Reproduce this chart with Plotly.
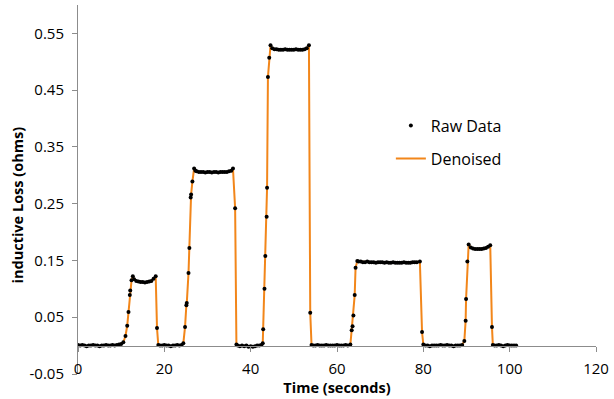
import plotly.graph_objects as go

# Time stamps (seconds), one row per segment of the recording
time_s = [
    0, 0.5, 1, 1.5, 2, 2.5, 3, 3.5, 4, 4.5, 5, 5.5, 6, 6.5, 7, 7.5, 8, 8.5, 9, 9.5, 10, 10.5,
    11.0, 11.4, 11.7, 12.0, 12.1, 12.4, 12.7,
    13.0, 13.5, 14.0, 14.5, 15.0, 15.5, 16.0, 16.5, 17.0, 17.5, 18.0,
    18.3,
    18.6, 19.0, 19.5, 20.0, 20.5, 21.0, 21.5, 22.0, 22.5, 23.0, 23.5, 24.0, 24.4,
    24.8, 25.1, 25.2, 25.6, 25.8, 26.1, 26.2, 26.5, 26.9,
    27.2, 27.5, 28.0, 28.5, 29.0, 29.5, 30.0, 30.5, 31.0, 31.5, 32.0, 32.5, 33.0, 33.5, 34.0, 34.5, 35.0, 35.5, 35.9,
    36.4,
    36.7, 37.0, 37.5, 38.0, 38.5, 39.0, 39.5, 40.0, 40.5, 41.0, 41.5, 42.0, 42.5, 42.8,
    42.9, 43.2, 43.4, 43.7, 43.8, 44.0, 44.3, 44.6,
    45.0, 45.5, 46.0, 46.5, 47.0, 47.5, 48.0, 48.5, 49.0, 49.5, 50.0, 50.5, 51.0, 51.5, 52.0, 52.5, 53.0, 53.5,
    53.8,
    54.1, 54.5, 55.0, 55.5, 56.0, 56.5, 57.0, 57.5, 58.0, 58.5, 59.0, 59.5, 60.0, 60.5, 61.0, 61.5, 62.0, 62.5, 63.1,
    63.4, 63.6, 63.8, 64.1, 64.3, 64.7,
    65.0, 65.5, 66.0, 66.5, 67.0, 67.5, 68.0, 68.5, 69.0, 69.5, 70.0, 70.5, 71.0, 71.5, 72.0, 72.5, 73.0, 73.5,
    74.0, 74.5, 75.0, 75.5, 76.0, 76.5, 77.0, 77.5, 78.0, 78.5, 79.2,
    79.7,
    80.0, 80.5, 81.0, 81.5, 82.0, 82.5, 83.0, 83.5, 84.0, 84.5, 85.0, 85.5, 86.0, 86.5, 87.0, 87.5, 88.0, 88.5, 89.0,
    89.5, 89.8, 89.9, 90.2, 90.5,
    91.0, 91.5, 92.0, 92.5, 93.0, 93.5, 94.0, 94.5, 95.0, 95.5,
    95.9,
    96.1, 96.5, 97.0, 97.5, 98.0, 98.5, 99.0, 99.5, 100.0, 100.5, 101.0, 101.5,
]

# Raw inductive loss readings (ohms), same row layout as time_s
raw_loss = [
    0.001, 0.000, 0.001, 0.000, -0.001, 0.000, 0.000, 0.001, 0.000, 0.000, -0.001, 0.000, 0.000, 0.001, 0.000, 0.000, 0.001, 0.000, 0.001, 0.002, 0.003, 0.006,
    0.017, 0.035, 0.059, 0.089, 0.097, 0.115, 0.122,
    0.117, 0.114, 0.113, 0.112, 0.112, 0.111, 0.112, 0.113, 0.114, 0.118, 0.122,
    0.031,
    0.001, 0.000, 0.000, 0.001, 0.000, 0.000, -0.001, 0.000, 0.000, 0.001, 0.000, 0.001, 0.004,
    0.033, 0.071, 0.075, 0.128, 0.172, 0.261, 0.266, 0.289, 0.312,
    0.308, 0.307, 0.306, 0.306, 0.306, 0.305, 0.306, 0.306, 0.305, 0.306, 0.306, 0.305, 0.306, 0.306, 0.306, 0.306, 0.307, 0.308, 0.312,
    0.242,
    0.002, 0.000, -0.001, 0.000, -0.001, 0.000, -0.002, -0.001, -0.002, -0.001, 0.000, 0.000, 0.001, 0.004,
    0.029, 0.100, 0.158, 0.227, 0.278, 0.473, 0.507, 0.529,
    0.524, 0.522, 0.522, 0.521, 0.521, 0.521, 0.522, 0.521, 0.521, 0.521, 0.521, 0.522, 0.521, 0.521, 0.521, 0.522, 0.524, 0.529,
    0.058,
    0.001, 0.000, 0.000, 0.001, 0.000, 0.000, 0.000, 0.001, 0.000, 0.000, 0.000, 0.000, 0.001, 0.000, 0.000, 0.000, 0.001, 0.000, 0.002,
    0.027, 0.034, 0.053, 0.089, 0.137, 0.149,
    0.148, 0.148, 0.147, 0.147, 0.148, 0.147, 0.147, 0.147, 0.146, 0.147, 0.147, 0.147, 0.146, 0.147, 0.146, 0.146, 0.147, 0.146,
    0.146, 0.146, 0.146, 0.147, 0.146, 0.146, 0.146, 0.147, 0.147, 0.147, 0.148,
    0.024,
    0.002, 0.000, 0.000, -0.001, 0.000, 0.000, 0.000, 0.000, 0.001, 0.000, 0.000, 0.001, 0.000, 0.000, -0.001, 0.000, 0.000, 0.000, 0.001,
    0.008, 0.044, 0.082, 0.148, 0.178,
    0.173, 0.171, 0.170, 0.170, 0.170, 0.170, 0.171, 0.172, 0.174, 0.177,
    0.033,
    0.001, 0.000, 0.000, 0.001, 0.000, -0.001, 0.000, 0.001, 0.000, 0.000, 0.000, 0.000,
]

# The denoised signal follows the raw readings at this scale
denoised_loss = list(raw_loss)

assert len(time_s) == len(raw_loss)

x_ticks = [0, 20, 40, 60, 80, 100, 120]
y_ticks = [-0.05, 0.05, 0.15, 0.25, 0.35, 0.45, 0.55]

x_title = "Time (seconds)"
y_title = "inductive Loss (ohms)"

AXIS_COLOR = "#8c8c8c"
FONT = "Open Sans"

fig = go.Figure()
fig.add_trace(go.Scatter(
    x=time_s, y=denoised_loss, mode="lines", name="Denoised",
    line=dict(color="#F2861A", width=2),
    legendgroup="den", legendrank=2,
))
fig.add_trace(go.Scatter(
    x=time_s, y=raw_loss, mode="markers", name="Raw Data",
    marker=dict(color="black", size=4, symbol="circle"),
    legendgroup="raw", legendrank=1,
))

y0_frac = (0 - (-0.05)) / (0.6 - (-0.05))

fig.update_layout(
    width=614, height=399,
    margin=dict(l=78, r=14, t=5, b=25),
    paper_bgcolor="white", plot_bgcolor="white",
    font=dict(family=FONT, size=15, color="black"),
    showlegend=True,
    legend=dict(
        x=0.604, y=0.719, xanchor="left", yanchor="top",
        font=dict(family=FONT, size=16, color="black"),
        traceorder="grouped", tracegroupgap=9,
        bgcolor="rgba(0,0,0,0)",
    ),
    xaxis=dict(
        range=[0, 120], tickvals=x_ticks, ticktext=[str(v) for v in x_ticks],
        anchor="free", position=y0_frac,
        showline=True, linecolor=AXIS_COLOR, linewidth=1,
        ticks="outside", ticklen=5, tickcolor=AXIS_COLOR,
        showgrid=False, zeroline=False,
        tickfont=dict(family=FONT, size=15, color="black"),
        ticklabelstandoff=4,
        title=dict(text=f"<b>{x_title}</b>", font=dict(family=FONT, size=14.5, color="black"), standoff=0),
    ),
    yaxis=dict(
        range=[-0.05, 0.6], tickvals=y_ticks, ticktext=[f"{v:.2f}" for v in y_ticks],
        showline=True, linecolor=AXIS_COLOR, linewidth=1,
        ticks="outside", ticklen=5, tickcolor=AXIS_COLOR,
        showgrid=False, zeroline=False,
        tickfont=dict(family=FONT, size=15, color="black"),
        ticklabelstandoff=5,
    ),
    annotations=[dict(
        text=f"<b>{y_title}</b>", textangle=-90,
        xref="paper", yref="paper", x=(17 - 78) / 522, y=(374 - 205) / 369,
        xanchor="center", yanchor="middle", showarrow=False,
        font=dict(family=FONT, size=14.5, color="black"),
    )],
)

fig.write_html("out.html")
